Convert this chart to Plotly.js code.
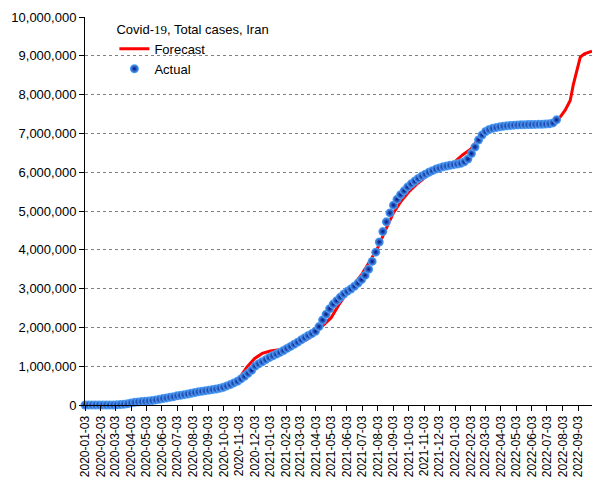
<!DOCTYPE html>
<html>
<head>
<meta charset="utf-8">
<script src="https://cdn.plot.ly/plotly-3.0.1.min.js"></script>
<style>html,body{margin:0;padding:0;background:#fff;}#chart{width:605px;height:480px;}</style>
</head>
<body>
<div id="chart"></div>
<script>
// Forecast series
const forecastDates = ["2020-01-03","2020-02-03","2020-03-03","2020-03-20","2020-04-03","2020-05-03","2020-06-03","2020-07-03","2020-08-03","2020-09-03","2020-10-03","2020-10-20","2020-11-03","2020-11-18","2020-12-03","2020-12-18","2021-01-03","2021-02-03","2021-03-03","2021-03-18","2021-04-03","2021-05-03","2021-05-18","2021-06-03","2021-06-18","2021-07-03","2021-07-18","2021-08-03","2021-08-18","2021-09-03","2021-09-18","2021-10-03","2021-10-18","2021-11-03","2021-11-18","2021-12-03","2021-12-18","2022-01-03","2022-01-18","2022-02-03","2022-02-18","2022-03-03","2022-03-18","2022-04-03","2022-05-03","2022-06-03","2022-07-03","2022-07-18","2022-07-28","2022-08-08","2022-08-18","2022-08-24","2022-09-01","2022-09-07","2022-09-15","2022-09-30"];
const forecastValues = [0,0,0,5000,40000,95000,200000,290000,310000,325000,390000,520000,700000,980000,1200000,1330000,1390000,1450000,1600000,1700000,1880000,2250000,2580000,2880000,3120000,3380000,3700000,4050000,4500000,4950000,5250000,5490000,5680000,5850000,5980000,6080000,6140000,6280000,6450000,6600000,6860000,6980000,7080000,7160000,7230000,7260000,7280000,7330000,7400000,7600000,7850000,8250000,8700000,8970000,9050000,9120000];

// Actual series (weekly)
const actualStart = "2020-01-03";
const actualValues = [
0,0,0,0,0,0,0,18,388,4747,11364,19644,32332,53183,68192,79494,88194,95646,104691,116635,131652,146668,167156,182545,200262,215096,235429,250458,267061,284034,304204,322567,338825,354764,369911,382772,397801,413149,432798,457219,492378,526490,568896,612772,673250,738322,815117,894385,1003494,1062397,1115770,1168200,
1225142,1268263,1311810,1354520,1405414,1459370,1510000,1565000,1620000,1680000,1735000,1790000,1840000,1900000,2020000,2190000,2340000,2480000,2600000,2690000,2780000,2860000,2930000,2990000,3060000,3140000,3230000,3340000,3500000,3700000,3940000,4200000,4470000,4720000,4950000,5150000,5300000,5420000,5520000,5620000,5700000,5770000,5840000,5900000,5950000,6000000,6040000,6080000,6110000,6140000,6160000,6180000,6195000,
6210000,6230000,6270000,6340000,6480000,6650000,6830000,6960000,7050000,7100000,7130000,7150000,7170000,7185000,7195000,7205000,7212000,7218000,7222000,7225000,7228000,7230000,7232000,7234000,7237000,7241000,7250000,7270000,7350000];

function weekDates(start, n){
  const out=[]; const d0=new Date(start+"T00:00:00Z");
  for(let i=0;i<n;i++){const d=new Date(d0.getTime()+i*7*86400000);out.push(d.toISOString().slice(0,10));}
  return out;
}
const actualDates = weekDates(actualStart, actualValues.length);

const traces = [
  {x: forecastDates, y: forecastValues, type:'scatter', mode:'lines', name:'Forecast',
   line:{color:'#ff0000', width:3}, cliponaxis:false},
  {x: actualDates, y: actualValues, type:'scatter', mode:'markers', name:'Actual',
   marker:{size:9, color:'#55aaff', gradient:{type:'radial', color:'#001080'}, line:{width:0}}, cliponaxis:false}
];

const layout = {
  width:605, height:480,
  margin:{l:85, r:13, t:17, b:75},
  paper_bgcolor:'#fff', plot_bgcolor:'#fff',
  font:{family:'Liberation Sans, Arial, sans-serif', size:13, color:'#000'},
  showlegend:true,
  legend:{x:0.058, y:1.0, xanchor:'left', yanchor:'top', bgcolor:'rgba(0,0,0,0)',
    title:{text:'Covid-<span style="font-family:Liberation Serif">19</span>, Total cases, Iran', font:{size:13}}, font:{size:13}, tracegroupgap:0},
  xaxis:{type:'date', range:['2020-01-03','2022-09-30'], tick0:'2020-01-03', dtick:'M1',
    tickformat:'%Y-%m-%d', tickangle:-90, ticks:'outside', ticklen:5, tickcolor:'#000',
    showgrid:false, showline:true, linecolor:'#000', linewidth:1, zeroline:false,
    tickfont:{size:12}},
  yaxis:{range:[0,10000000], dtick:1000000, tickformat:',d', ticks:'outside', ticklen:5, tickcolor:'#000',
    showline:true, linecolor:'#000', linewidth:1, showgrid:true, gridcolor:'#808080', griddash:'3px,3px',
    gridwidth:1, zeroline:false, tickfont:{size:13}}
};

Plotly.newPlot('chart', traces, layout, {displayModeBar:false, staticPlot:true});
</script>
</body>
</html>
